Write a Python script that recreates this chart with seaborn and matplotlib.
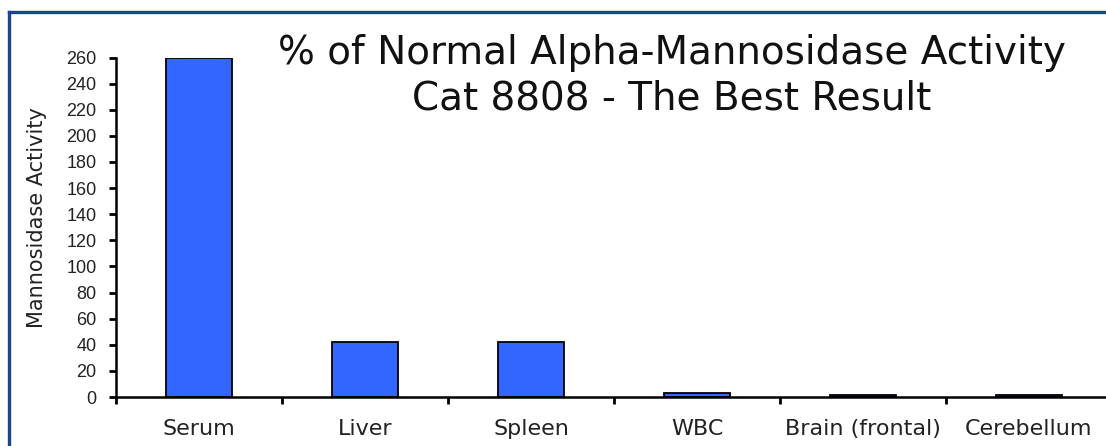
import matplotlib
matplotlib.use("Agg")
import matplotlib.pyplot as plt
import seaborn as sns
import pandas as pd
from matplotlib.lines import Line2D

categories = ["Serum", "Liver", "Spleen", "WBC", "Brain (frontal)", "Cerebellum"]
values = [260, 42, 42, 3, 1.5, 1.5]
yticks = list(range(0, 261, 20))

title_line1 = "% of Normal Alpha-Mannosidase Activity"
title_line2 = "Cat 8808 - The Best Result"
ylabel = "Mannosidase Activity"

sns.set_theme(style="white")
plt.rcParams['font.family'] = ['DejaVu Sans']

W, H = 1106, 446
fig = plt.figure(figsize=(W / 100, H / 100), dpi=100)
fig.patch.set_facecolor("white")

left, right = 116, 1112
bottom, top = 397, 57.5
ax = fig.add_axes([left / W, 1 - bottom / H, (right - left) / W, (bottom - top) / H])
ax.set_facecolor("white")

df = pd.DataFrame({"cat": categories, "val": values})
sns.barplot(data=df, x="cat", y="val", color="#3366FF", saturation=1,
            width=0.4, edgecolor="black", linewidth=1.3, ax=ax)

ax.set_xlim(-0.5, len(categories) - 0.5)
ax.set_ylim(0, 260)
ax.set_yticks(yticks)
ax.set_yticklabels([str(t) for t in yticks], fontfamily="Liberation Sans", fontsize=13)
ax.set_xticks(range(len(categories)))
ax.set_xticklabels(categories, fontsize=16)
ax.set_xticks([i - 0.5 for i in range(len(categories) + 1)], minor=True)
ax.tick_params(axis="x", which="major", length=0, pad=16, colors="#222222")
ax.tick_params(axis="x", which="minor", length=5, width=2, color="black", direction="out", bottom=True)
ax.tick_params(axis="y", which="major", length=5, width=2, color="black", direction="out", left=True, pad=9, labelcolor="#222222")
ax.set_xlabel("")
ax.set_ylabel("")

for s in ["top", "right"]:
    ax.spines[s].set_visible(False)
for s in ["left", "bottom"]:
    ax.spines[s].set_linewidth(1.8)
    ax.spines[s].set_color("black")

fig.text(37 / W, 1 - 218 / H, ylabel, rotation=90, ha="center", va="center",
         fontsize=15, color="#222222")
fig.text(672 / W, 1 - 53 / H, title_line1, ha="center", va="center", fontsize=28, color="#111111")
fig.text(672 / W, 1 - 98 / H, title_line2, ha="center", va="center", fontsize=28, color="#111111")

ytop = 1 - 11.5 / H
xl = 8.5 / W
fig.lines.append(Line2D([xl, 1.1], [ytop, ytop], transform=fig.transFigure,
                        color="#1A4590", linewidth=2.4, solid_capstyle="projecting"))
fig.lines.append(Line2D([xl, xl], [-0.1, ytop], transform=fig.transFigure,
                        color="#1A4590", linewidth=2.4, solid_capstyle="projecting"))

fig.savefig("out.png", dpi=100)
